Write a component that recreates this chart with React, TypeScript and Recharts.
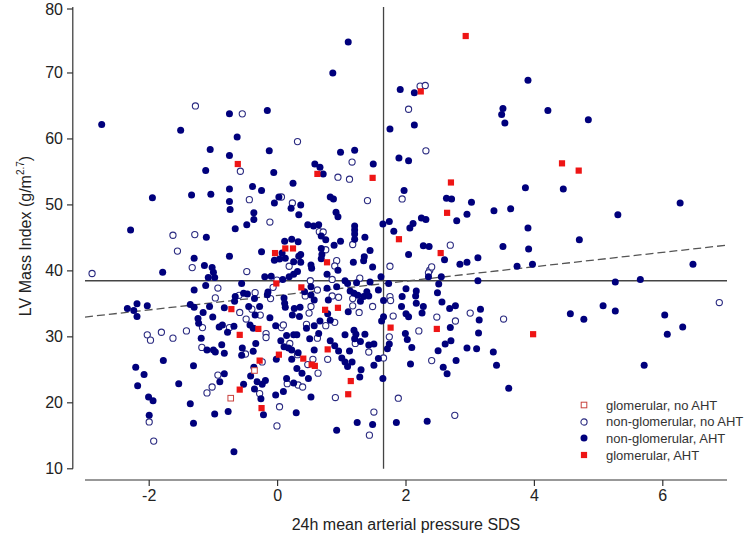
import React from 'react';
import {
  ScatterChart,
  Scatter,
  XAxis,
  YAxis,
  ReferenceLine,
} from 'recharts';

// Series as [x = 24h MAP SDS, y = LV mass index]
const glomNoAht: [number, number][] = [
  [-0.36, 24.9], [-0.73, 20.7],
];

const glomAht: [number, number][] = [
  [-0.62, 56.2], [2.93, 75.6], [2.23, 67.2], [4.43, 56.3], [4.69, 55.2], [-0.04, 42.7],
  [0.12, 43.4], [0.24, 43.4], [-0.02, 38.1], [0.37, 37.5], [-0.72, 34.2], [-0.59, 30.3],
  [-0.3, 31.2], [0.02, 27.3], [-0.28, 26.4], [-0.59, 22.0], [-0.25, 19.2], [0.62, 54.7],
  [1.48, 54.1], [2.7, 53.4], [2.64, 48.8], [1.89, 44.8], [2.54, 42.7], [0.77, 41.3],
  [0.94, 34.4], [0.74, 34.1], [1.76, 31.4], [1.14, 23.3], [1.1, 21.3], [2.48, 31.2],
  [3.98, 30.4], [0.78, 28.1], [0.4, 26.7], [0.53, 25.8], [0.58, 25.6],
];

const nonGlomNoAht: [number, number][] = [
  [-1.28, 65.0], [-0.55, 63.8], [0.31, 59.6], [2.22, 68.0], [2.3, 68.1], [2.04, 64.5],
  [2.31, 58.2], [1.16, 56.5], [-0.58, 55.1], [-0.44, 50.8], [0.06, 51.2], [0.23, 50.3],
  [-0.12, 47.4], [-1.63, 45.4], [-1.29, 45.5], [-1.56, 43.0], [0.18, 40.7], [-2.89, 39.6],
  [-1.33, 40.5], [-0.48, 39.9], [-0.01, 38.6], [-0.93, 37.4], [-0.07, 37.5], [-0.35, 36.7],
  [-0.6, 36.3], [-0.97, 35.9], [-0.11, 35.8], [-0.59, 33.7], [-0.4, 34.2], [-0.27, 33.3],
  [-0.49, 32.7], [-1.17, 31.4], [-0.75, 31.4], [-0.18, 30.5], [-0.18, 29.9], [0.06, 31.4],
  [0.09, 31.8], [-2.03, 30.3], [-1.98, 29.5], [-1.81, 30.7], [-1.63, 29.8], [-1.42, 30.9],
  [-1.18, 28.4], [-0.5, 27.4], [0.19, 29.0], [0.31, 27.3], [-0.24, 26.2], [-0.93, 24.2],
  [-1.02, 22.4], [-1.1, 21.5], [-0.28, 21.4], [0.15, 22.9], [0.32, 22.7], [0.03, 19.4],
  [-2.0, 17.1], [-0.01, 16.5], [-1.93, 14.2], [0.94, 54.2], [1.12, 53.9], [1.94, 50.9],
  [1.4, 50.65], [0.65, 45.95], [0.71, 45.9], [1.17, 44.0], [2.69, 43.9], [0.75, 43.2],
  [0.92, 41.55], [1.75, 40.7], [0.89, 40.75], [2.37, 40.1], [2.4, 40.6], [2.35, 39.7],
  [1.28, 38.9], [0.85, 38.7], [0.51, 38.5], [0.62, 37.1], [1.75, 36.1], [1.76, 35.5],
  [0.43, 36.2], [0.85, 36.2], [0.95, 36.0], [1.17, 35.8], [1.17, 34.7], [0.52, 34.6],
  [0.49, 33.6], [1.27, 33.7], [1.48, 34.6], [1.8, 33.15], [2.48, 33.0], [3.0, 33.6],
  [3.52, 32.7], [6.88, 35.2], [1.74, 30.0], [1.65, 26.8], [0.9, 20.8], [1.5, 18.6],
  [1.43, 15.1], [1.88, 20.7], [2.76, 18.1], [2.4, 26.4], [2.77, 32.4], [2.2, 30.9],
  [0.89, 32.2], [0.75, 31.7], [0.45, 31.9], [0.62, 29.8], [0.78, 26.6], [1.21, 29.0],
  [1.42, 27.7], [0.55, 26.6], [0.47, 25.8], [0.63, 24.5], [0.39, 22.4],
];

const nonGlomAht: [number, number][] = [
  [-2.74, 62.2], [-0.75, 63.8], [-0.16, 64.3], [-1.51, 61.3], [-0.63, 60.3], [-1.05, 58.4],
  [-0.75, 57.5], [-0.13, 58.2], [1.1, 74.7], [0.86, 70.0], [1.91, 67.5], [2.13, 67.0],
  [3.51, 64.6], [3.49, 63.7], [3.54, 62.4], [1.75, 61.5], [2.13, 62.1], [0.98, 58.0],
  [1.2, 58.3], [1.89, 57.1], [2.04, 56.7], [0.58, 56.2], [1.49, 56.2], [3.9, 68.9],
  [4.21, 64.3], [4.84, 62.9], [-1.12, 55.2], [-0.06, 54.9], [0.24, 53.3], [-1.95, 51.1],
  [-1.34, 51.5], [-1.04, 51.6], [-0.75, 52.4], [-0.39, 52.8], [-0.25, 52.2], [-0.75, 50.5],
  [0.02, 51.2], [-0.05, 50.3], [-0.74, 49.3], [-0.37, 48.8], [-0.37, 47.8], [0.21, 49.5],
  [0.33, 48.5], [-0.48, 47.0], [-0.66, 46.4], [-2.29, 46.2], [-1.11, 45.1], [-1.3, 41.9],
  [-0.75, 42.2], [-0.25, 42.9], [0.11, 44.5], [0.22, 44.8], [0.32, 44.4], [0.07, 42.7],
  [-0.05, 41.6], [0.03, 41.8], [0.12, 41.9], [0.25, 41.4], [0.33, 42.2], [-1.79, 39.8],
  [-1.14, 40.8], [-1.02, 40.5], [-1.0, 39.8], [-1.08, 39.0], [-0.98, 39.0], [-0.2, 39.1],
  [-0.1, 39.2], [0.08, 38.7], [0.18, 39.1], [0.25, 39.5], [-1.12, 37.8], [-0.56, 38.1],
  [-1.3, 37.1], [-0.15, 36.8], [-0.53, 36.6], [-0.47, 36.5], [-0.66, 36.1], [-0.36, 35.8],
  [0.1, 35.9], [-0.16, 36.4], [0.11, 35.1], [-1.36, 34.9], [-1.3, 34.5], [-2.34, 34.3],
  [-2.19, 35.0], [-2.03, 34.7], [-2.24, 34.0], [-1.06, 34.6], [-0.83, 34.4], [-0.67, 35.4],
  [-0.45, 34.6], [-0.28, 34.6], [0.12, 34.5], [0.26, 34.3], [-1.16, 33.7], [-0.35, 33.3],
  [0.23, 33.3], [-2.19, 33.1], [-1.24, 32.8], [-1.01, 33.0], [-0.12, 32.9], [-1.23, 32.05],
  [-0.91, 31.5], [-0.86, 31.8], [-0.78, 30.7], [-0.68, 31.6], [-0.43, 31.8], [-0.38, 31.3],
  [-0.03, 31.7], [0.14, 30.2], [0.25, 30.3], [-1.19, 29.8], [-1.1, 28.0], [-1.0, 28.0],
  [-0.97, 27.7], [-0.87, 28.8], [-0.83, 27.5], [-0.55, 28.3], [-0.56, 27.2], [-0.38, 27.8],
  [-0.34, 29.0], [0.05, 29.4], [0.1, 28.5], [0.17, 28.3], [0.22, 28.0], [-0.02, 26.6],
  [0.22, 26.6], [-1.78, 26.4], [-1.31, 25.6], [-2.21, 25.4], [-2.08, 24.3], [-0.37, 25.4],
  [-0.42, 24.05], [0.3, 25.2], [-0.83, 24.4], [-0.9, 23.2], [-1.54, 22.9], [-2.18, 22.6],
  [-0.53, 22.8], [-0.32, 23.2], [-0.24, 22.8], [-0.19, 23.4], [-0.36, 22.1], [-0.26, 20.6],
  [0.14, 23.7], [0.25, 23.0], [0.09, 21.7], [-0.03, 21.2], [-2.01, 20.9], [-1.94, 20.3],
  [-1.36, 19.85], [-0.77, 18.7], [-0.98, 18.3], [-0.22, 18.2], [0.29, 18.5], [-2.0, 18.1],
  [-1.31, 16.9], [-0.68, 12.6], [0.66, 55.7], [0.71, 54.7], [1.97, 52.2], [0.82, 51.2],
  [0.87, 50.9], [0.36, 50.0], [2.63, 51.0], [2.71, 50.9], [3.02, 50.4], [2.95, 48.6],
  [2.79, 47.6], [3.37, 49.1], [3.63, 49.4], [0.91, 48.9], [0.94, 48.2], [1.64, 47.1],
  [1.74, 47.5], [1.81, 46.0], [2.06, 46.5], [2.11, 47.2], [2.24, 48.0], [2.31, 47.8],
  [0.47, 47.0], [0.56, 46.8], [0.64, 47.0], [0.68, 45.3], [1.2, 46.8], [1.2, 46.2],
  [1.2, 45.6], [1.2, 44.8], [1.36, 45.1], [0.75, 44.7], [0.98, 44.5], [0.88, 43.9],
  [2.27, 43.8], [2.36, 43.7], [2.04, 42.5], [2.6, 41.7], [3.51, 43.7], [3.12, 42.0],
  [2.95, 41.3], [2.84, 41.0], [1.44, 43.1], [0.68, 43.4], [0.69, 42.5], [0.68, 41.85],
  [0.36, 42.5], [0.36, 41.3], [1.18, 41.3], [1.35, 42.15], [1.34, 41.55], [1.48, 40.6],
  [0.52, 40.9], [0.53, 40.4], [0.94, 40.1], [0.31, 39.9], [0.77, 39.5], [1.61, 39.1],
  [2.55, 39.1], [2.35, 39.1], [3.12, 38.5], [2.51, 38.0], [2.49, 36.7], [1.05, 38.5],
  [1.09, 38.1], [1.23, 38.2], [1.44, 38.3], [1.73, 38.1], [0.92, 37.6], [0.52, 37.6],
  [0.77, 37.35], [1.57, 37.1], [1.13, 36.95], [1.19, 36.6], [1.25, 36.3], [1.39, 36.85],
  [1.34, 36.1], [2.0, 37.3], [2.16, 36.95], [2.15, 36.2], [1.94, 36.1], [2.56, 35.3],
  [1.65, 35.5], [0.42, 36.85], [0.52, 36.35], [0.57, 35.6], [0.79, 35.6], [1.42, 36.2],
  [1.29, 35.4], [0.78, 33.5], [0.35, 34.5], [0.34, 33.1], [1.1, 33.8], [1.93, 34.6],
  [2.27, 34.6], [2.16, 35.1], [2.0, 33.5], [2.25, 33.6], [2.68, 34.3], [2.77, 34.7],
  [3.16, 34.2], [1.65, 33.05], [3.86, 52.6], [4.45, 52.4], [6.27, 50.3], [5.3, 48.5],
  [3.9, 46.5], [4.7, 44.7], [3.91, 43.3], [3.73, 40.7], [3.97, 41.0], [6.47, 41.0],
  [5.26, 38.3], [5.65, 38.7], [5.07, 34.7], [5.26, 33.9], [4.56, 33.5], [4.77, 32.65],
  [6.03, 33.3], [1.62, 32.4], [1.74, 28.9], [1.71, 28.2], [1.57, 26.7], [1.64, 23.7],
  [1.5, 25.7], [1.3, 25.0], [1.28, 23.9], [0.52, 20.9], [0.92, 15.85], [1.24, 17.0],
  [1.48, 16.7], [1.85, 17.0], [2.33, 17.2], [3.6, 22.2], [2.07, 25.9], [2.58, 25.4],
  [2.64, 24.4], [2.78, 26.4], [2.09, 28.4], [2.5, 27.9], [2.61, 28.9], [2.7, 29.4],
  [2.95, 28.3], [3.1, 28.2], [3.36, 27.7], [3.41, 25.7], [3.13, 30.6], [3.14, 32.55],
  [2.69, 31.4], [2.04, 33.05], [1.99, 30.5], [2.02, 29.6], [0.66, 32.4], [0.82, 32.5],
  [0.57, 31.7], [0.45, 31.3], [0.64, 30.5], [0.5, 29.7], [0.3, 30.3], [0.82, 29.4],
  [0.89, 28.65], [0.57, 28.0], [0.95, 27.85], [1.0, 26.8], [1.12, 27.85], [1.05, 30.3],
  [1.19, 31.0], [1.22, 30.4], [1.2, 29.7], [1.29, 29.3], [1.36, 30.4], [1.42, 28.75],
  [1.5, 28.9], [1.05, 26.2], [1.09, 25.5], [1.16, 26.2], [0.32, 27.6], [0.38, 24.5],
  [0.48, 23.7], [6.07, 30.4], [6.31, 31.5], [5.71, 25.7],
];

// Axes and reference lines
const X_DOMAIN: [number, number] = [-3, 7];
const X_TICKS = [-2, 0, 2, 4, 6];
const Y_DOMAIN: [number, number] = [8.3, 80];
const Y_TICKS = [10, 20, 30, 40, 50, 60, 70, 80];
const MEAN_LVMI = 38.5;
const MEAN_MAP = 1.65;
const FIT_LINE = [{ x: -3, y: 33.0 }, { x: 7, y: 43.9 }];
const Y_AXIS_POS = -3.19; // y axis sits a little left of the plot

const LEGEND_NAMES = [
  'glomerular, no AHT',
  'non-glomerular, no AHT',
  'non-glomerular, AHT',
  'glomerular, AHT',
];

const NAVY = '#00007c';
const RED = '#ee1515';
const AXIS = '#333';

const toPoints = (arr: [number, number][]) => arr.map(([x, y]) => ({ x, y }));

function OpenSquare({ cx, cy }: any) {
  return <rect x={cx - 2.8} y={cy - 2.8} width={5.6} height={5.6} fill="#fff" stroke="#c8423e" strokeWidth={1} />;
}
function FilledSquare({ cx, cy }: any) {
  return <rect x={cx - 3.1} y={cy - 3.1} width={6.2} height={6.2} fill={RED} />;
}
function OpenCircle({ cx, cy }: any) {
  return <circle cx={cx} cy={cy} r={3.1} fill="#fff" stroke="#2a2a80" strokeWidth={1.1} />;
}
function FilledCircle({ cx, cy }: any) {
  return <circle cx={cx} cy={cy} r={3.5} fill={NAVY} />;
}

const LEGEND_SHAPES = [OpenSquare, OpenCircle, FilledCircle, FilledSquare];

function YTick({ y, payload }: any) {
  return (
    <g>
      <line x1={67} x2={73} y1={y} y2={y} stroke={AXIS} strokeWidth={1.2} />
      <text x={63} y={y} textAnchor="end" dominantBaseline="central" fontSize={16} fill="#222">
        {payload.value}
      </text>
    </g>
  );
}

function YTitle() {
  return (
    <text transform="translate(31,236) rotate(-90)" textAnchor="middle" fontSize={16} fill="#222">
      LV Mass Index (g/m<tspan fontSize={10} dy={-7}>2.7</tspan><tspan dy={7}>)</tspan>
    </text>
  );
}

export default function App() {
  return (
    <div
      style={{
        position: 'absolute',
        left: 0,
        top: 0,
        width: 749,
        height: 539,
        background: '#fff',
        fontFamily: '"Liberation Sans", Arial, sans-serif',
      }}
    >
      <ScatterChart width={749} height={539} margin={{ top: 7, right: 22, bottom: 0, left: 0 }}>
        <XAxis
          type="number"
          dataKey="x"
          domain={X_DOMAIN}
          ticks={X_TICKS}
          allowDataOverflow
          height={59}
          tickSize={6}
          tickMargin={4}
          axisLine={{ stroke: AXIS, strokeWidth: 1.2 }}
          tickLine={{ stroke: AXIS, strokeWidth: 1.2 }}
          tick={{ fill: '#222', fontSize: 16 }}
          label={{ value: '24h mean arterial pressure SDS', position: 'insideBottom', offset: 9, fill: '#222', fontSize: 16 }}
        />
        <YAxis
          type="number"
          dataKey="y"
          domain={Y_DOMAIN}
          ticks={Y_TICKS}
          allowDataOverflow
          width={85}
          axisLine={false}
          tickLine={false}
          tick={<YTick />}
          label={<YTitle />}
        />
        <ReferenceLine
          segment={[{ x: Y_AXIS_POS, y: 10 }, { x: Y_AXIS_POS, y: 80 }]}
          stroke={AXIS}
          strokeWidth={1.2}
          ifOverflow="visible"
        />
        <ReferenceLine y={MEAN_LVMI} stroke="#444" strokeWidth={1.3} />
        <ReferenceLine
          segment={[{ x: MEAN_MAP, y: 10 }, { x: MEAN_MAP, y: 80 }]}
          stroke="#444"
          strokeWidth={1.3}
        />
        <ReferenceLine
          segment={FIT_LINE}
          stroke="#555"
          strokeWidth={1.3}
          strokeDasharray="8 4"
        />
        <Scatter data={toPoints(nonGlomNoAht)} shape={OpenCircle} isAnimationActive={false} />
        <Scatter data={toPoints(nonGlomAht)} shape={FilledCircle} isAnimationActive={false} />
        <Scatter data={toPoints(glomNoAht)} shape={OpenSquare} isAnimationActive={false} />
        <Scatter data={toPoints(glomAht)} shape={FilledSquare} isAnimationActive={false} />
      </ScatterChart>

      {/* legend, bottom right inside the plot */}
      <div style={{ position: 'absolute', left: 576, top: 397, fontSize: 13, color: '#333' }}>
        {LEGEND_NAMES.map((name, i) => {
          const Shape = LEGEND_SHAPES[i];
          return (
            <div key={name} style={{ display: 'flex', alignItems: 'center', height: 16.6, whiteSpace: 'nowrap' }}>
              <svg width={16} height={16} style={{ display: 'block' }}>
                <Shape cx={8} cy={8} />
              </svg>
              <span style={{ marginLeft: 14 }}>{name}</span>
            </div>
          );
        })}
      </div>
    </div>
  );
}
